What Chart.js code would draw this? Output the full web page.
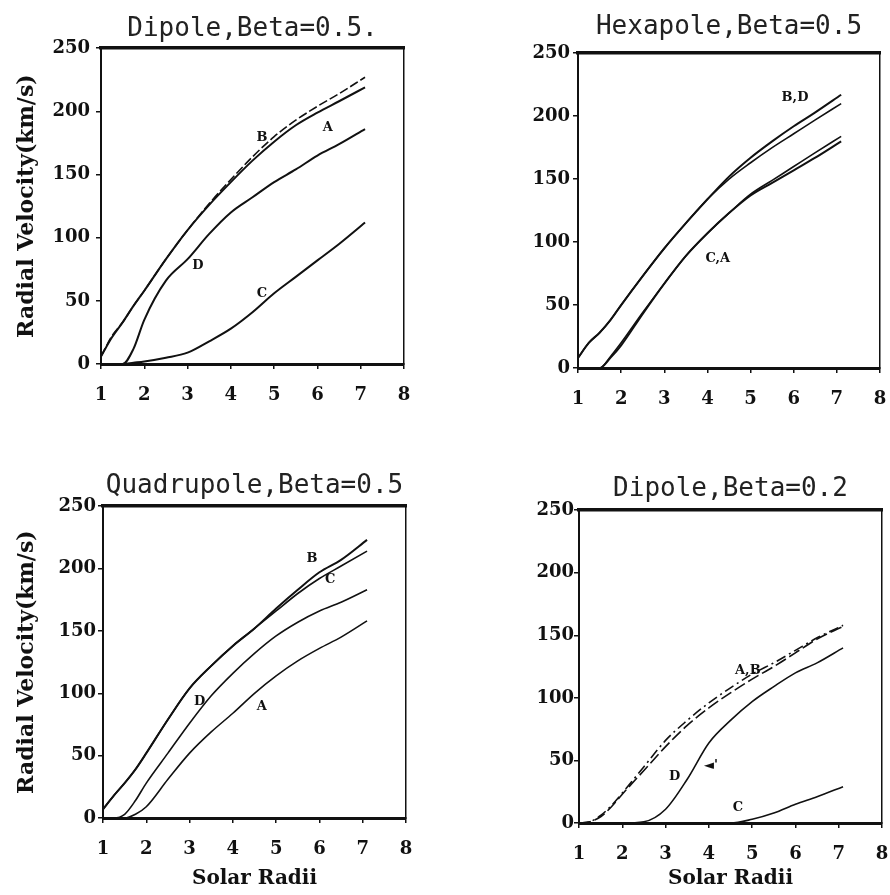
<!DOCTYPE html>
<html>
<head>
<meta charset="utf-8">
<script src="https://cdn.jsdelivr.net/npm/chart.js@4.4.1/dist/chart.umd.min.js"></script>
<style>
  html, body { margin: 0; padding: 0; background: #fff; }
  #page { position: relative; width: 890px; height: 895px; overflow: hidden; }
  canvas { position: absolute; }
</style>
</head>
<body>
<div id="page">
  <canvas id="p1" width="445" height="430" style="left:0;top:0"></canvas>
  <canvas id="p2" width="445" height="430" style="left:445px;top:0"></canvas>
  <canvas id="p3" width="445" height="455" style="left:0;top:440px"></canvas>
  <canvas id="p4" width="445" height="455" style="left:445px;top:440px"></canvas>
</div>
<script>
const radii = [1, 1.25, 1.5, 1.75, 2, 2.5, 3, 3.5, 4, 4.5, 5, 5.5, 6, 6.5, 7.1];

// Dipole, Beta = 0.5
const dipole5A = [6, 21, 33, 46, 58, 83, 106, 126, 144, 161, 176, 189, 199, 208, 219];
const dipole5B = [6, 22, 33, 46, 58, 83, 106, 127, 146, 164, 180, 193, 204, 214, 227];
const dipole5C = [0, 0, 0, 1, 2, 5, 9, 18, 28, 41, 56, 69, 82, 95, 112];
const dipole5D = [0, 0, 0, 12, 35, 66, 83, 103, 120, 132, 144, 154, 165, 174, 186];

// Hexapole, Beta = 0.5
const hexaB = [8, 20, 28, 38, 50, 73, 95, 115, 134, 152, 167, 180, 192, 203, 217];
const hexaD = [8, 20, 28, 38, 50, 73, 95, 115, 134, 150, 163, 175, 186, 197, 210];
const hexaC = [0, 0, 0, 9, 20, 44, 67, 89, 107, 123, 138, 149, 160, 171, 184];
const hexaA = [0, 0, 0, 8, 18, 43, 67, 89, 107, 123, 137, 147, 157, 167, 180];

// Quadrupole, Beta = 0.5
const quadB = [7, 18, 28, 39, 52, 79, 104, 122, 138, 152, 168, 183, 197, 207, 223];
const quadC = [7, 18, 28, 39, 52, 79, 104, 122, 138, 152, 166, 180, 192, 202, 214];
const quadD = [0, 0, 3, 14, 28, 52, 76, 98, 116, 132, 146, 157, 166, 173, 183];
const quadA = [0, 0, 0, 3, 9, 31, 52, 69, 84, 100, 114, 126, 136, 145, 158];

// Dipole, Beta = 0.2
const dipole2A = [0, 1, 6, 14, 24, 45, 66, 82, 96, 108, 119, 128, 138, 148, 158];
const dipole2B = [0, 1, 5, 13, 23, 42, 61, 78, 92, 104, 115, 125, 136, 147, 157];
const dipole2C = [0, 0, 0, 0, 0, 0, 0, 0, 0, 0, 3, 8, 15, 21, 29];
const dipole2D = [0, 0, 0, 0, 0, 1, 11, 35, 64, 82, 97, 109, 120, 128, 140];

// Curve letters, placed at (radius, velocity)
const labels1 = [["B", 4.72, 179], ["A", 6.24, 187], ["D", 3.24, 78], ["C", 4.72, 56]];
const labels2 = [["B,D", 6.03, 215], ["C,A", 4.24, 87]];
const labels3 = [["B", 5.83, 208], ["C", 6.25, 191], ["D", 3.23, 93], ["A", 4.67, 89]];
const labels4 = [["A,B", 4.9, 122], ["D", 3.21, 37], ["\u25C4'", 4.05, 46], ["C", 4.67, 12]];

const ink = "#111";
const serif = "'DejaVu Serif', 'Liberation Serif', serif";

function series(values, dash, width) {
  return {
    data: radii.map((r, i) => ({ x: r, y: values[i] })),
    borderColor: ink,
    borderWidth: width || 2,
    borderDash: dash || [],
    pointRadius: 0,
    fill: false,
    cubicInterpolationMode: "monotone",
  };
}

// draws the curve letters through the chart's own scales
function letterPlugin(items) {
  return {
    id: "letters",
    afterDatasetsDraw(chart) {
      const { ctx, scales } = chart;
      ctx.save();
      ctx.font = "bold 13px " + serif;
      ctx.fillStyle = ink;
      ctx.textAlign = "center";
      ctx.textBaseline = "middle";
      items.forEach(([text, r, v]) => {
        ctx.fillText(text, scales.x.getPixelForValue(r), scales.y.getPixelForValue(v));
      });
      ctx.restore();
    },
  };
}

const panels = [
  {
    id: "p1", title: "Dipole,Beta=0.5.", yTitle: true, xTitle: false,
    sets: [series(dipole5B, [9, 3], 1.6), series(dipole5A), series(dipole5D), series(dipole5C)],
    letters: labels1,
    yWidth: 101, xHeight: 66, padRight: 41, titlePad: { top: 14, bottom: 3 }, yTickPad: 6,
  },
  {
    id: "p2", title: "Hexapole,Beta=0.5", yTitle: false, xTitle: false,
    sets: [series(hexaB), series(hexaD, [], 1.6), series(hexaC, [], 1.6), series(hexaA)],
    letters: labels2,
    yWidth: 133, xHeight: 62, padRight: 10, titlePad: { top: 12, bottom: 10 }, yTickPad: 3,
  },
  {
    id: "p3", title: "Quadrupole,Beta=0.5", yTitle: true, xTitle: true,
    sets: [series(quadB), series(quadC, [], 1.6), series(quadD, [], 1.6), series(quadA, [], 1.6)],
    letters: labels3,
    yWidth: 103, xHeight: 77, padRight: 39, titlePad: { top: 31, bottom: 4 }, yTickPad: 2,
  },
  {
    id: "p4", title: "Dipole,Beta=0.2", yTitle: false, xTitle: true,
    sets: [series(dipole2A, [10, 4, 2, 4], 1.6), series(dipole2B, [12, 4], 1.6), series(dipole2D, [], 1.6), series(dipole2C, [], 1.6)],
    letters: labels4,
    yWidth: 134, xHeight: 72, padRight: 8, titlePad: { top: 34, bottom: 5 }, yTickPad: 0,
  },
];

panels.forEach((p) => {
  const ctx = document.getElementById(p.id).getContext("2d");

  new Chart(ctx, {
    type: "line",
    data: { datasets: p.sets },
    plugins: [letterPlugin(p.letters)],
    options: {
      responsive: false,
      animation: false,
      devicePixelRatio: 1,
      layout: { padding: { left: 0, right: p.padRight, top: 0, bottom: 0 } },
      plugins: {
        legend: { display: false },
        tooltip: { enabled: false },
        title: {
          display: true,
          text: p.title,
          fullSize: false,
          color: "#222",
          font: { family: "'DejaVu Sans Mono', monospace", size: 26, weight: "normal", lineHeight: 1.2 },
          padding: p.titlePad,
        },
      },
      scales: {
        x: {
          type: "linear",
          position: "bottom",
          min: 1,
          max: 8,
          ticks: { stepSize: 1, color: ink, padding: 16, maxRotation: 0, font: { family: serif, size: 18, weight: "bold" } },
          grid: { drawOnChartArea: false, tickLength: 5, color: ink, lineWidth: 1.5 },
          border: { color: ink, width: 3 },
          title: {
            display: p.xTitle,
            text: "Solar Radii",
            color: ink,
            font: { family: serif, size: 20, weight: "bold", lineHeight: 1.2 },
            padding: { top: 0, bottom: 4 },
          },
          // fixed axis height; the tick padding should not eat into the right margin
          afterFit: (s) => {
            s.height = p.xHeight;
            s.paddingLeft = 0;
            s.paddingRight = 0;
          },
        },
        y: {
          position: "left",
          min: 0,
          max: 250,
          ticks: { stepSize: 50, color: ink, padding: p.yTickPad, font: { family: serif, size: 18, weight: "bold" } },
          grid: { drawOnChartArea: false, tickLength: 5, color: ink, lineWidth: 1.5 },
          border: { color: ink, width: 2 },
          title: {
            display: p.yTitle,
            text: "Radial Velocity(km/s)",
            color: ink,
            font: { family: serif, size: 22, weight: "bold", lineHeight: 1.2 },
            padding: { top: 14, bottom: 0 },
          },
          afterFit: (s) => { s.width = p.yWidth; },
        },
        // top and right edges of the frame
        x2: {
          type: "linear",
          position: "top",
          min: 1,
          max: 8,
          ticks: { display: false },
          grid: { drawOnChartArea: false, drawTicks: false },
          border: { color: ink, width: 3.5 },
          afterFit: (s) => { s.height = 0; },
        },
        y2: {
          position: "right",
          min: 0,
          max: 250,
          ticks: { display: false },
          grid: { drawOnChartArea: false, drawTicks: false },
          border: { color: ink, width: 1.5, dash: [6, 3] },
          afterFit: (s) => { s.width = 0; },
        },
      },
    },
  });
});
</script>
</body>
</html>
